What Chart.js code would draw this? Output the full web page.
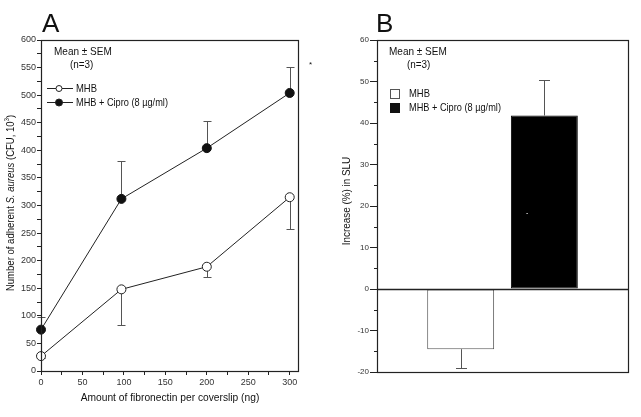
<!DOCTYPE html>
<html>
<head>
<meta charset="utf-8">
<script src="https://cdn.jsdelivr.net/npm/chart.js@4"></script>
<style>
  body { margin: 0; background: #fff; width: 641px; height: 417px; position: relative; overflow: hidden;
         font-family: "Liberation Sans", Arial, sans-serif; }
  .panel { position: absolute; top: 0; }
  #boxA { left: 0; }
  #boxB { left: 320px; }
  .tag { position: absolute; font-size: 26px; line-height: 26px; color: #111; }
</style>
</head>
<body>
<div class="panel" id="boxA"><canvas id="chartA" width="320" height="417"></canvas></div>
<div class="panel" id="boxB"><canvas id="chartB" width="321" height="417"></canvas></div>
<div class="tag" style="left:42px;top:10px">A</div>
<div class="tag" style="left:376px;top:10px">B</div>
<script>
/* ---- data: panel A (adherence vs fibronectin) ---- */
const fibronectinNg = [0, 97, 200, 300];
const mhbCount = [27, 148, 189, 315];
const mhbSem = [3, 65, 19, 58];
const ciproCount = [75, 312, 404, 504];
const ciproSem = [23, 68, 49, 47];

/* ---- data: panel B (SLU increase) ---- */
const groupNames = ['MHB', 'MHB + Cipro (8 µg/ml)'];
const groupPos = [1, 2];
const sluIncrease = [-14.5, 41.8];
const sluSem = [4.5, 8.5];

const FONT = '"Liberation Sans", Arial, sans-serif';
const INK = '#222';

const toXY = (xs, ys) => xs.map((x, i) => ({ x, y: ys[i] }));

/* one-sided error bars, read from ds.sem / ds.semDir */
function drawErrorBars(chart, cap) {
  const ctx = chart.ctx, ys = chart.scales.y;
  ctx.save();
  ctx.strokeStyle = '#555';
  ctx.lineWidth = 1;
  chart.data.datasets.forEach((ds, di) => {
    if (!ds.sem) return;
    const meta = chart.getDatasetMeta(di);
    meta.data.forEach((el, i) => {
      const v = ds.data[i].y;
      const dir = ds.semDir || Math.sign(v);
      const px = Math.round(el.x) + 0.5;
      const y1 = Math.round(ys.getPixelForValue(v + dir * ds.sem[i])) + 0.5;
      ctx.beginPath();
      ctx.moveTo(px, el.y);
      ctx.lineTo(px, y1);
      ctx.moveTo(px - cap / 2, y1);
      ctx.lineTo(px + cap / 2, y1);
      ctx.stroke();
    });
  });
  ctx.restore();
}

function frame(chart) {
  const { ctx, chartArea: a } = chart;
  ctx.save();
  ctx.strokeStyle = INK;
  ctx.lineWidth = 1.2;
  ctx.strokeRect(Math.round(a.left) + 0.5, Math.round(a.top) + 0.5,
                 Math.round(a.right - a.left), Math.round(a.bottom - a.top));
  ctx.restore();
}

/* the source lettering is a bit narrower than Arial, so squeeze it horizontally */
function txt(ctx, s, x, y, size, sq = 0.9, align = 'left') {
  ctx.save();
  ctx.font = `${size}px ${FONT}`;
  ctx.textAlign = align;
  ctx.translate(x, y);
  ctx.scale(sq, 1);
  ctx.fillText(s, 0, 0);
  ctx.restore();
}

function richText(ctx, parts, cx, cy, rot, sq) {
  ctx.save();
  ctx.translate(cx, cy);
  ctx.rotate(rot);
  ctx.scale(sq, 1);
  ctx.textBaseline = 'middle';
  let total = 0;
  parts.forEach(p => { ctx.font = p.font; total += ctx.measureText(p.t).width; });
  let x = -total / 2;
  parts.forEach(p => {
    ctx.font = p.font;
    ctx.fillText(p.t, x, p.dy || 0);
    x += ctx.measureText(p.t).width;
  });
  ctx.restore();
}

const decorA = {
  id: 'decorA',
  beforeDatasetsDraw(chart) { drawErrorBars(chart, 8); },
  afterDraw(chart) {
    const ctx = chart.ctx;
    frame(chart);
    ctx.save();
    ctx.fillStyle = '#111';
    txt(ctx, 'Mean ± SEM', 54, 55, 11.5, 0.87);
    txt(ctx, '(n=3)', 70, 68, 11.5, 0.86);
    // legend rows
    txt(ctx, 'MHB', 76, 92, 11.5, 0.82);
    txt(ctx, 'MHB + Cipro (8 µg/ml)', 76, 106, 11.5, 0.8);
    ctx.strokeStyle = INK;
    ctx.lineWidth = 1;
    [[88, '#fff', 3], [102, '#111', 3.5]].forEach(([yy, fill, r]) => {
      ctx.beginPath();
      ctx.moveTo(47, yy + 0.5); ctx.lineTo(73, yy + 0.5); ctx.stroke();
      ctx.beginPath();
      ctx.arc(59, yy + 0.5, r, 0, Math.PI * 2);
      ctx.fillStyle = fill; ctx.fill(); ctx.stroke();
    });
    ctx.fillStyle = '#111';
    // axis titles
    txt(ctx, 'Amount of fibronectin per coverslip (ng)', 170, 401, 11.5, 0.89, 'center');
    richText(ctx, [
      { t: 'Number of adherent ', font: `11.5px ${FONT}` },
      { t: 'S. aureus', font: `italic 11.5px ${FONT}` },
      { t: ' (CFU, 10', font: `11.5px ${FONT}` },
      { t: '3', font: `7px ${FONT}`, dy: -4 },
      { t: ')', font: `11.5px ${FONT}` }
    ], 11, 203, -Math.PI / 2, 0.83);
    ctx.font = `8px ${FONT}`;
    ctx.fillText('*', 309, 67);
    ctx.restore();
  }
};

const decorB = {
  id: 'decorB',
  afterDatasetsDraw(chart) {
    const { ctx, chartArea: a, scales: { y } } = chart;
    drawErrorBars(chart, 11);
    // zero line
    const y0 = Math.round(y.getPixelForValue(0)) + 0.5;
    ctx.save();
    ctx.strokeStyle = INK;
    ctx.lineWidth = 1.5;
    ctx.beginPath(); ctx.moveTo(a.left, y0); ctx.lineTo(a.right, y0); ctx.stroke();
    // minor ticks at odd multiples of 5
    ctx.lineWidth = 1;
    y.ticks.forEach(t => {
      if (t.value % 10 === 0) return;
      const py = Math.round(y.getPixelForValue(t.value)) + 0.5;
      ctx.beginPath(); ctx.moveTo(a.left - 3, py); ctx.lineTo(a.left, py); ctx.stroke();
    });
    ctx.restore();
  },
  afterDraw(chart) {
    const ctx = chart.ctx;
    frame(chart);
    ctx.save();
    ctx.fillStyle = '#111';
    txt(ctx, 'Mean ± SEM', 69, 55, 11.5, 0.87);
    txt(ctx, '(n=3)', 87, 68, 11.5, 0.86);
    txt(ctx, groupNames[0], 89, 97, 11.5, 0.82);
    txt(ctx, groupNames[1], 89, 111, 11.5, 0.8);
    ctx.strokeStyle = '#555';
    ctx.lineWidth = 1;
    ctx.strokeRect(70.5, 89.5, 9, 9);
    ctx.fillRect(70, 103, 10, 10);
    richText(ctx, [{ t: 'Increase (%) in SLU', font: `11.5px ${FONT}` }], 27, 201, -Math.PI / 2, 0.86);
    ctx.fillStyle = '#fff';
    ctx.font = `7px ${FONT}`;
    ctx.fillText('-', 206, 215);
    ctx.restore();
  }
};

const tickFont = { family: FONT, size: 9 };

new Chart(document.getElementById('chartA'), {
  type: 'line',
  data: {
    datasets: [
      {
        label: 'MHB',
        data: toXY(fibronectinNg, mhbCount),
        sem: mhbSem, semDir: -1,
        borderColor: INK, borderWidth: 1,
        pointBackgroundColor: '#fff', pointBorderColor: INK, pointBorderWidth: 1,
        pointRadius: 4.5, tension: 0, clip: false
      },
      {
        label: 'MHB + Cipro (8 µg/ml)',
        data: toXY(fibronectinNg, ciproCount),
        sem: ciproSem, semDir: 1,
        borderColor: INK, borderWidth: 1,
        pointBackgroundColor: '#111', pointBorderColor: '#111', pointBorderWidth: 1,
        pointRadius: 4.5, tension: 0, clip: false
      }
    ]
  },
  options: {
    responsive: false,
    animation: false,
    layout: { padding: { left: 0, right: 22, top: 40, bottom: 0 } },
    plugins: { legend: { display: false }, tooltip: { enabled: false } },
    scales: {
      x: {
        type: 'linear', min: 0, max: 310,
        afterFit: s => { s.height = 46; },
        grid: { drawOnChartArea: false, tickLength: 4, tickColor: INK },
        border: { color: INK },
        ticks: {
          stepSize: 25, includeBounds: false, autoSkip: false, maxRotation: 0,
          color: '#333', font: tickFont, padding: 2,
          callback: v => (v % 50 === 0 ? v : '')
        }
      },
      y: {
        min: 0, max: 600,
        afterFit: s => { s.width = 41; },
        grid: { drawOnChartArea: false, tickLength: 4, tickColor: INK },
        border: { color: INK },
        ticks: {
          stepSize: 25, autoSkip: false, color: '#333', font: tickFont, padding: 1,
          callback: v => (v % 50 === 0 ? v : '')
        }
      }
    }
  },
  plugins: [decorA]
});

new Chart(document.getElementById('chartB'), {
  type: 'bar',
  data: {
    datasets: [{
      data: toXY(groupPos, sluIncrease),
      sem: sluSem,
      backgroundColor: ['#fff', '#000'],
      borderColor: ['#555', '#000'],
      borderWidth: 1,
      borderSkipped: false,
      barPercentage: 0.8,
      categoryPercentage: 1
    }]
  },
  options: {
    responsive: false,
    animation: false,
    layout: { padding: { left: 0, right: 13, top: 40, bottom: 45 } },
    plugins: { legend: { display: false }, tooltip: { enabled: false } },
    scales: {
      x: {
        type: 'linear', min: 0, max: 3, offset: false, display: false,
        ticks: { stepSize: 1 }
      },
      y: {
        min: -20, max: 60,
        afterFit: s => { s.width = 57; },
        grid: {
          drawOnChartArea: false, tickLength: 7,
          tickColor: c => (c.tick && c.tick.value % 10 === 0 ? INK : 'rgba(0,0,0,0)')
        },
        border: { color: INK },
        ticks: {
          stepSize: 5, autoSkip: false, color: '#333', font: { family: FONT, size: 8 }, padding: 1,
          callback: v => (v % 10 === 0 ? v : '')
        }
      }
    }
  },
  plugins: [decorB]
});
</script>
</body>
</html>
